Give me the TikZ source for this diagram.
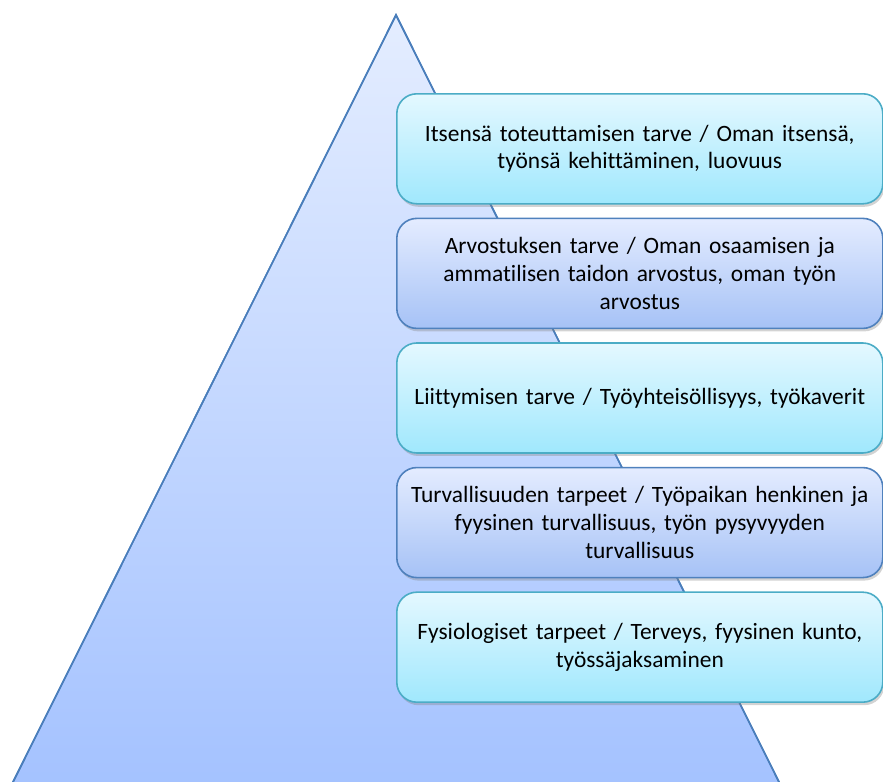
\documentclass[tikz,border=0pt]{standalone}
\usepackage{fontspec}
\setmainfont[Ligatures=NoCommon]{Carlito}
\usepackage{tikz}
\usetikzlibrary{positioning, shadows}
\definecolor{pyrline}{HTML}{4A7EBB}
\definecolor{pyrtop}{HTML}{E4EDFF}
\definecolor{pyrbot}{HTML}{A4C2FF}
\definecolor{aqualine}{HTML}{4BACC6}
\definecolor{aquatop}{HTML}{E4F8FF}
\definecolor{aquabot}{HTML}{A0E8FD}
\definecolor{blueline}{HTML}{4F81BD}
\definecolor{bluetop}{HTML}{E4ECFF}
\definecolor{bluebot}{HTML}{A6C2F6}
\tikzset{
  needbox/.style={rounded corners=20bp, align=center, text width=482bp,
    minimum height=110bp, minimum width=486bp, inner sep=0pt,
    font=\fontsize{23.5}{28}\selectfont, text=black, line width=1.6pt,
    drop shadow={shadow xshift=1.5bp, shadow yshift=-3bp, opacity=0.35}},
  aquabox/.style={needbox, draw=aqualine, top color=aquatop, bottom color=aquabot},
  bluebox/.style={needbox, draw=blueline, top color=bluetop, bottom color=bluebot},
  pyramid/.style={draw=pyrline, line width=1.6pt, top color=pyrtop, bottom color=pyrbot}
}
\begin{document}
\begin{tikzpicture}[x=1bp, y=-1bp, node distance=13bp]
\useasboundingbox (0,0) rectangle (883,782);
\shade[pyramid] (396,15) -- (783,790) -- (9,790) -- cycle;
\draw[pyrline, line width=1.6pt] (9,790) -- (396,15) -- (783,790);
\node[aquabox, anchor=north west] (self) at (396,93) {Itsensä toteuttamisen tarve / Oman itsensä,\\työnsä kehittäminen, luovuus};
\node[bluebox, below=of self] (esteem) {Arvostuksen tarve / Oman osaamisen ja\\ammatilisen taidon arvostus, oman työn\\arvostus};
\node[aquabox, below=of esteem] (belong) {Liittymisen tarve / Työyhteisöllisyys, työkaverit};
\node[bluebox, below=of belong] (safety) {Turvallisuuden tarpeet / Työpaikan henkinen ja\\fyysinen turvallisuus, työn pysyvyyden\\turvallisuus};
\node[aquabox, below=of safety] (physio) {Fysiologiset tarpeet / Terveys, fyysinen kunto,\\työssäjaksaminen};
\end{tikzpicture}
\end{document}
